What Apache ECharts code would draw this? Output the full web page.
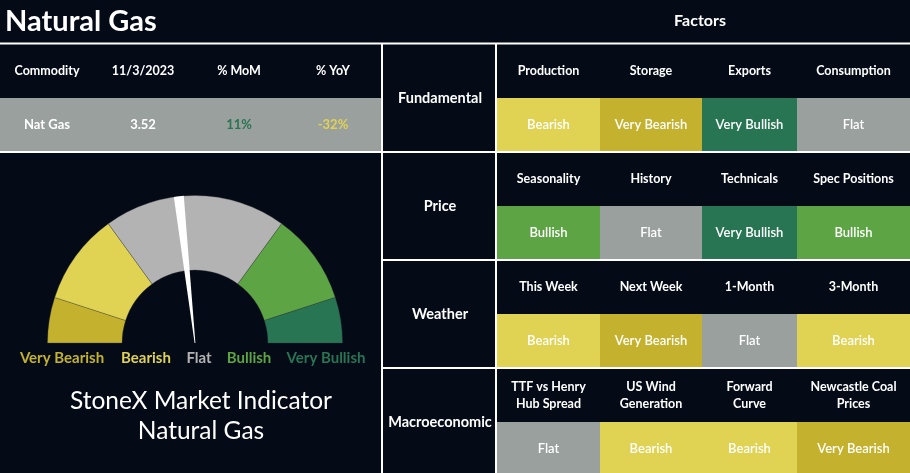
<!DOCTYPE html>
<html>
<head>
<meta charset="utf-8">
<script src="https://cdn.jsdelivr.net/npm/echarts@6/dist/echarts.min.js"></script>
<style>
html,body{margin:0;padding:0;background:#040B17;}
#chart{width:910px;height:473px;}
</style>
</head>
<body>
<div id="chart"></div>
<script>
// ---------------- DATA ----------------
const pageTitle = 'Natural Gas';
const factorsTitle = 'Factors';
const indicatorTitle = ['StoneX Market Indicator', 'Natural Gas'];

const commodityHeaders = ['Commodity', '11/3/2023', '% MoM', '% YoY'];
const commodityName = 'Nat Gas';
const commodityPrice = 3.52;
const momPct = 11;
const yoyPct = -32;

const signalLevels = ['Very Bearish', 'Bearish', 'Flat', 'Bullish', 'Very Bullish'];
const gaugeBandWidths = [1, 2, 4, 2, 1];   // share of the half circle per level
const indicatorValue = 4.65;                // needle on 0..10 scale

const categories = ['Fundamental', 'Price', 'Weather', 'Macroeconomic'];
const fundamentalFactors = ['Production', 'Storage', 'Exports', 'Consumption'];
const fundamentalSignals = ['Bearish', 'Very Bearish', 'Very Bullish', 'Flat'];
const priceFactors = ['Seasonality', 'History', 'Technicals', 'Spec Positions'];
const priceSignals = ['Bullish', 'Flat', 'Very Bullish', 'Bullish'];
const weatherFactors = ['This Week', 'Next Week', '1-Month', '3-Month'];
const weatherSignals = ['Bearish', 'Very Bearish', 'Flat', 'Bearish'];
const macroFactors = ['TTF vs Henry\nHub Spread', 'US Wind\nGeneration', 'Forward\nCurve', 'Newcastle Coal\nPrices'];
const macroSignals = ['Flat', 'Bearish', 'Bearish', 'Very Bearish'];

// ---------------- STYLE / LAYOUT ----------------
const BG = '#040B17';
const FONT = 'Lato';
const cellColors = ['#C4B22E', '#E0D253', '#9AA09E', '#5DA544', '#287553'];
const gaugeColors = ['#C4B22E', '#E0D253', '#B3B3B3', '#5DA544', '#287553'];
const COL_EDGES = [0, 103, 205, 300, 413];
const SUB_H = 54;
const GRID = {left: 497, top: 44, width: 413, height: 429};
const gaugeLabelX = [62, 146, 199, 249, 326];
const headerX = [47, 143, 239, 333];

const factorRows = [fundamentalFactors, priceFactors, weatherFactors, macroFactors];
const signalRows = [fundamentalSignals, priceSignals, weatherSignals, macroSignals];

const cellData = [];
const headData = [];
signalRows.forEach((row, r) => row.forEach((s, c) => {
  cellData.push({value: [c, r, signalLevels.indexOf(s)], name: s});
  headData.push({value: [c, r], name: factorRows[r][c]});
}));

const chart = echarts.init(document.getElementById('chart'));

function cellBox(api, c, r, sub) {
  const yTop = r * 2 * SUB_H + sub * SUB_H;
  const yBot = Math.min(yTop + SUB_H, GRID.height);
  const p0 = api.coord([COL_EDGES[c], yTop]);
  const p1 = api.coord([COL_EDGES[c + 1], yBot]);
  return {x: p0[0], y: p0[1], w: p1[0] - p0[0], h: p1[1] - p0[1]};
}

const W = '#FFFFFF';
const lines = [
  [0, 43.5, 910, 43.5],
  [382, 44, 382, 473],
  [0, 152, 382, 152],
  [496, 44, 496, 473],
  [382, 152, 910, 152],
  [382, 260, 910, 260],
  [382, 368, 910, 368]
];

const graphics = [];
// left table grey row
graphics.push({type: 'rect', shape: {x: 0, y: 98, width: 381, height: 53}, style: {fill: '#9AA09E'}, z: 1});
// title
graphics.push({type: 'text', x: 5, y: 22, style: {text: pageTitle, fill: W, font: 'bold 29px ' + FONT, textAlign: 'left', textVerticalAlign: 'middle'}, z: 5});
graphics.push({type: 'text', x: 700, y: 21, style: {text: factorsTitle, fill: W, font: 'bold 16px ' + FONT, textAlign: 'center', textVerticalAlign: 'middle'}, z: 5});
// left table headers
commodityHeaders.forEach((h, i) => graphics.push({type: 'text', x: headerX[i], y: 71, style: {text: h, fill: W, font: 'bold 12.5px ' + FONT, textAlign: 'center', textVerticalAlign: 'middle'}, z: 5}));
const rowVals = [
  {t: commodityName, c: W},
  {t: commodityPrice.toFixed(2), c: W},
  {t: momPct + '%', c: momPct >= 0 ? '#287553' : '#E0D253'},
  {t: yoyPct + '%', c: yoyPct >= 0 ? '#287553' : '#E0D253'}
];
rowVals.forEach((v, i) => graphics.push({type: 'text', x: headerX[i], y: 125, style: {text: v.t, fill: v.c, font: 'bold 13px ' + FONT, textAlign: 'center', textVerticalAlign: 'middle'}, z: 5}));
// category labels
categories.forEach((c, i) => graphics.push({type: 'text', x: 440, y: 98 + i * 108, style: {text: c, fill: W, font: 'bold 14.5px ' + FONT, textAlign: 'center', textVerticalAlign: 'middle'}, z: 5}));
// gauge labels
signalLevels.forEach((s, i) => graphics.push({type: 'text', x: gaugeLabelX[i], y: 358, style: {text: s, fill: gaugeColors[i], font: 'bold 15px ' + FONT, textAlign: 'center', textVerticalAlign: 'middle'}, z: 5}));
// indicator title
indicatorTitle.forEach((t, i) => graphics.push({type: 'text', x: 201, y: 401 + i * 30, style: {text: t, fill: W, font: '24.5px ' + FONT, textAlign: 'center', textVerticalAlign: 'middle'}, z: 5}));
// white grid lines
lines.forEach(l => graphics.push({type: 'line', shape: {x1: l[0], y1: l[1], x2: l[2], y2: l[3]}, style: {stroke: W, lineWidth: 2}, z: 10}));

const total = gaugeBandWidths.reduce((a, b) => a + b, 0);
const pieData = gaugeBandWidths.map((w, i) => ({value: w, name: signalLevels[i], itemStyle: {color: gaugeColors[i]}}));
pieData.push({value: total, name: 'filler', itemStyle: {color: 'rgba(0,0,0,0)', borderWidth: 0}});

const option = {
  backgroundColor: BG,
  animation: false,
  grid: {left: GRID.left, top: GRID.top, width: GRID.width, height: GRID.height},
  xAxis: {type: 'value', min: 0, max: GRID.width, show: false},
  yAxis: {type: 'value', min: 0, max: GRID.height, inverse: true, show: false},
  graphic: graphics,
  series: [
    {
      type: 'pie',
      center: [195, 343],
      radius: [73, 147.5],
      startAngle: 180,
      clockwise: true,
      silent: true,
      label: {show: false},
      labelLine: {show: false},
      itemStyle: {borderColor: 'rgba(60,60,60,0.55)', borderWidth: 0.6},
      data: pieData,
      z: 2
    },
    {
      type: 'gauge',
      center: [195, 343],
      radius: 147.5,
      startAngle: 180,
      endAngle: 0,
      min: 0,
      max: total,
      axisLine: {show: false},
      axisTick: {show: false},
      splitLine: {show: false},
      axisLabel: {show: false},
      anchor: {show: false},
      title: {show: false},
      detail: {show: false},
      pointer: {
        icon: 'path://M0,0 L10,0 L5.4,100 L4.6,100 Z',
        length: '100%',
        width: 10,
        offsetCenter: [0, 0],
        itemStyle: {color: '#FFFFFF'}
      },
      data: [{value: indicatorValue}],
      z: 4
    },
    {
      type: 'custom',
      coordinateSystem: 'cartesian2d',
      silent: true,
      data: cellData,
      renderItem: function (params, api) {
        const c = api.value(0), r = api.value(1), lvl = api.value(2);
        const b = cellBox(api, c, r, 1);
        return {
          type: 'group',
          children: [
            {type: 'rect', shape: {x: b.x, y: b.y, width: b.w, height: b.h}, style: {fill: cellColors[lvl]}},
            {type: 'text', style: {text: cellData[params.dataIndex].name, x: b.x + b.w / 2, y: b.y + b.h / 2 + (r === 3 ? 1 : 0), textAlign: 'center', textVerticalAlign: 'middle', fill: '#FFFFFF', font: '600 13px ' + FONT}}
          ]
        };
      },
      z: 3
    },
    {
      type: 'custom',
      coordinateSystem: 'cartesian2d',
      silent: true,
      data: headData,
      renderItem: function (params, api) {
        const c = api.value(0), r = api.value(1);
        const b = cellBox(api, c, r, 0);
        return {
          type: 'text',
          style: {text: headData[params.dataIndex].name, x: b.x + b.w / 2, y: b.y + b.h / 2, textAlign: 'center', textVerticalAlign: 'middle', fill: '#FFFFFF', font: 'bold 12.5px ' + FONT, lineHeight: 17}
        };
      },
      z: 3
    }
  ]
};
chart.setOption(option);
</script>
</body>
</html>
